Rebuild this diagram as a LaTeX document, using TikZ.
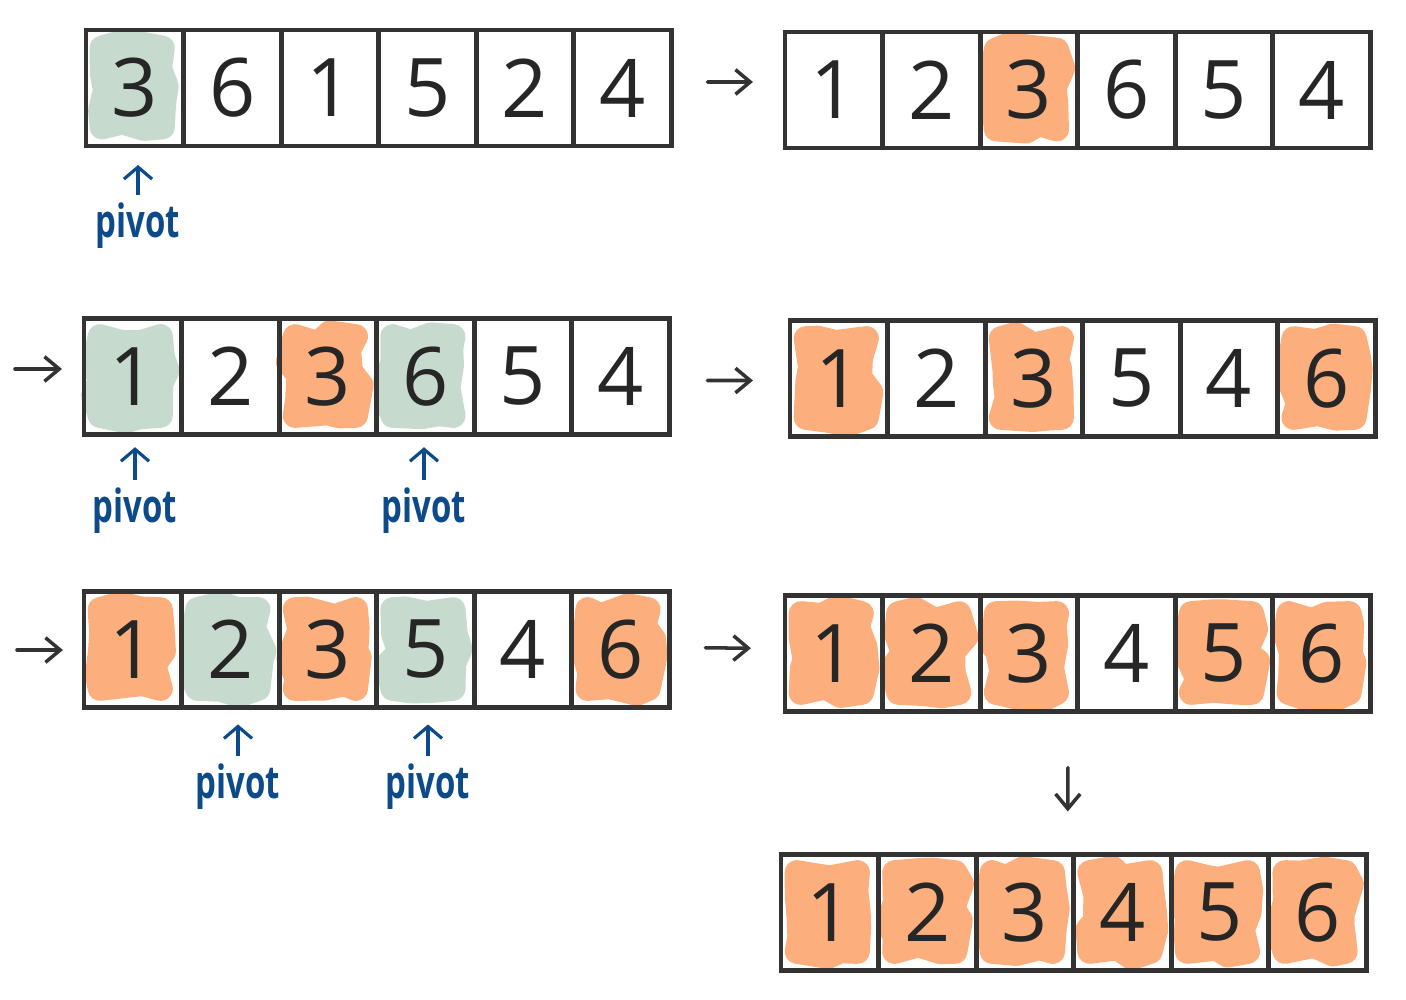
\documentclass[tikz,border=0pt]{standalone}
\usepackage{fontspec}
\setmainfont{Open Sans}
\newfontfamily\pivfont{Open Sans}[FakeStretch=0.72]
\usepackage{xcolor}
\usetikzlibrary{positioning,calc,arrows.meta,backgrounds,decorations.pathmorphing}
\definecolor{grn}{HTML}{C6DBCD}
\definecolor{org}{HTML}{FCAF7C}
\definecolor{ink}{HTML}{333333}
\definecolor{pblue}{HTML}{0D4A8A}
\pgfmathsetseed{7}
% a coloured scribble under one cell
\newcommand{\blob}[2]{%
  \begin{pgfonlayer}{background}
    \filldraw[#2, blobby] ($(#1.south west)+(16,-19)$) rectangle ($(#1.north east)+(-21,18)$);
  \end{pgfonlayer}}

\begin{document}
\begin{tikzpicture}[x=0.01cm,y=-0.01cm,
  cell/.style={draw=ink, line width=1.4pt, outer sep=0pt, inner sep=0pt,
    minimum width=0.975cm, minimum height=1.16cm,
    font=\fontsize{23}{24}\selectfont, text=black!85},
  blobby/.style={decorate, decoration={random steps, segment length=5pt, amplitude=2pt},
    line width=7pt, line join=round},
  piv/.style={text=pblue, inner sep=0pt, font=\fontsize{13}{15}\pivfont\bfseries},
  parr/.style={draw=pblue, line width=0.9pt, -{Straight Barb[length=3.4pt,width=8pt]}, shorten <=2pt},
  tarr/.style={draw=ink, line width=1pt, line cap=round, -{Straight Barb[length=4.2pt,width=7pt]}}]
  \useasboundingbox (0,0) rectangle (1406,1000);

  % row 1
  \node[cell] (A1) at (134.75,88) {3};
  \foreach \d [count=\i from 2, evaluate=\i as \p using int(\i-1)] in {6,1,5,2,4}
    \node[cell, right=0pt of A\p] (A\i) {\d};
  \blob{A1}{grn}
  \node[cell] (B1) at (833.75,90) {1};
  \foreach \d [count=\i from 2, evaluate=\i as \p using int(\i-1)] in {2,3,6,5,4}
    \node[cell, right=0pt of B\p] (B\i) {\d};
  \blob{B3}{org}

  % row 2
  \node[cell] (C1) at (132.75,376.5) {1};
  \foreach \d [count=\i from 2, evaluate=\i as \p using int(\i-1)] in {2,3,6,5,4}
    \node[cell, right=0pt of C\p] (C\i) {\d};
  \foreach \i/\c in {1/grn,3/org,4/grn} {\blob{C\i}{\c}}
  \node[cell] (D1) at (838.75,378.5) {1};
  \foreach \d [count=\i from 2, evaluate=\i as \p using int(\i-1)] in {2,3,5,4,6}
    \node[cell, right=0pt of D\p] (D\i) {\d};
  \foreach \i in {1,3,6} {\blob{D\i}{org}}

  % row 3
  \node[cell] (E1) at (132.75,649.5) {1};
  \foreach \d [count=\i from 2, evaluate=\i as \p using int(\i-1)] in {2,3,5,4,6}
    \node[cell, right=0pt of E\p] (E\i) {\d};
  \foreach \i/\c in {1/org,2/grn,3/org,4/grn,6/org} {\blob{E\i}{\c}}
  \node[cell] (F1) at (833.75,653.5) {1};
  \foreach \d [count=\i from 2, evaluate=\i as \p using int(\i-1)] in {2,3,4,5,6}
    \node[cell, right=0pt of F\p] (F\i) {\d};
  \foreach \i in {1,2,3,5,6} {\blob{F\i}{org}}

  % sorted
  \node[cell] (G1) at (829.75,912.5) {1};
  \foreach \d [count=\i from 2, evaluate=\i as \p using int(\i-1)] in {2,3,4,5,6}
    \node[cell, right=0pt of G\p] (G\i) {\d};
  \foreach \i in {1,...,6} {\blob{G\i}{org}}

  % pivots
  \node[piv] (pA) at (138,226) {pivot};
  \node[piv] (pC1) at (135,511) {pivot};
  \node[piv] (pC4) at (424,511) {pivot};
  \node[piv] (pE2) at (238,787) {pivot};
  \node[piv] (pE4) at (428,787) {pivot};
  \draw[parr, shorten >=5.4pt] (pA.north) -- (pA.north |- A1.south);
  \draw[parr, shorten >=3.6pt] (pC1.north) -- (pC1.north |- C1.south);
  \draw[parr, shorten >=3.6pt] (pC4.north) -- (pC4.north |- C4.south);
  \draw[parr, shorten >=4.8pt] (pE2.north) -- (pE2.north |- E2.south);
  \draw[parr, shorten >=4.8pt] (pE4.north) -- (pE4.north |- E4.south);

  % steps
  \coordinate (sC) at (15,369);
  \coordinate (sE) at (17,650);
  \draw[tarr, shorten <=0.36cm, shorten >=0.32cm] ([yshift=0.06cm]A6.east) -- ([yshift=0.08cm]B1.west);
  \draw[tarr, shorten >=0.22cm] (sC) -- (C1.west |- sC);
  \draw[tarr, shorten <=0.38cm, shorten >=0.37cm] ([yshift=-0.04cm]C6.east) -- ([yshift=-0.02cm]D1.west);
  \draw[tarr, shorten >=0.21cm] (sE) -- (E1.west |- sE);
  \draw[tarr, shorten <=0.36cm, shorten >=0.34cm] ([yshift=0.02cm]E6.east) -- ([yshift=0.05cm]F1.west);
  \draw[tarr, shorten <=0.56cm, shorten >=0.43cm] ([xshift=-0.095cm]F3.south east) -- ([xshift=-0.06cm]G3.north east);
\end{tikzpicture}
\end{document}
